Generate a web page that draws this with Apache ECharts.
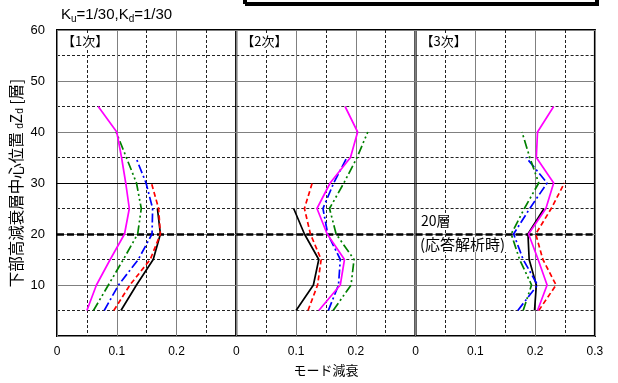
<!DOCTYPE html>
<html><head><meta charset="utf-8">
<script src="https://cdn.jsdelivr.net/npm/echarts@6/dist/echarts.min.js"></script>
<style>html,body{margin:0;padding:0;background:#fff}#c{width:618px;height:383px}</style>
</head><body><div id="c"></div>
<script>
var floors = [5,10,15,20,25,30,35,40,45];
var panelNames = ['【1次】','【2次】','【3次】'];
var xTicks = [0,0.1,0.2,0.3];
var yTicks = [10,20,30,40,50,60];
// series values per panel (x = mode damping at each floor)
var black1 = [0.107,0.133,0.161,0.173,0.168];
var red1 = [0.095,0.122,0.156,0.173,0.170,0.158];
var blue1 = [0.079,0.103,0.136,0.159,0.160,0.149,0.132];
var green1 = [0.061,0.086,0.111,0.135,0.141,0.133,0.116,0.099];
var magenta1 = [0.050,0.066,0.089,0.113,0.121,0.115,0.108,0.100,0.069];
var black2 = [0.100,0.129,0.138,0.114,0.096];
var red2 = [0.120,0.136,0.142,0.124,0.114,0.127];
var blue2 = [0.154,0.171,0.174,0.153,0.145,0.163,0.185];
var green2 = [0.162,0.192,0.197,0.167,0.156,0.180,0.202,0.220];
var magenta2 = [0.138,0.174,0.181,0.152,0.135,0.157,0.191,0.203,0.182];
var black3 = [0.199,0.202,0.190,0.188,0.215];
var red3 = [0.206,0.235,0.213,0.201,0.227,0.249];
var blue3 = [0.171,0.204,0.180,0.164,0.191,0.220,0.185];
var green3 = [0.180,0.194,0.174,0.160,0.182,0.206,0.191,0.178];
var magenta3 = [0.204,0.220,0.205,0.189,0.218,0.231,0.202,0.204,0.231];
var refFloor = 20;

var panels = [
  [black1, red1, blue1, green1, magenta1],
  [black2, red2, blue2, green2, magenta2],
  [black3, red3, blue3, green3, magenta3]
];
var styles = [
  {color:'#000000', type:'solid'},
  {color:'#FF0000', type:[5,3]},
  {color:'#0000FF', type:[9,3,2,3]},
  {color:'#008000', type:[9,3,2,3,2,3]},
  {color:'#FF00FF', type:'solid'}
];
var gridLeft = 57, gridW = 179.3, gridTop = 30, gridH = 306;
var FONT = '"Liberation Sans", Arial, "Noto Sans CJK JP", sans-serif';
var JFONT = '"Noto Sans CJK JP", sans-serif';

var grids = [], xAxes = [], yAxes = [], series = [], titles = [];
for (var p = 0; p < 3; p++) {
  grids.push({left: gridLeft + p*gridW, top: gridTop, width: gridW, height: gridH,
    show: true, borderColor: '#000', borderWidth: 2, backgroundColor: '#fff', containLabel: false});
  xAxes.push({type:'value', gridIndex:p, min:0, max:0.3, interval:0.1,
    axisLine:{show:false}, axisTick:{show:false},
    axisLabel:{show:true, showMaxLabel: p===2, margin:10, fontSize:12, color:'#000', fontFamily:FONT,
      formatter:function(v){return (Math.round(v*10)/10).toString();}},
    splitLine:{show:true, lineStyle:{color:'#808080', width:1}},
    minorTick:{show:false, splitNumber:2},
    minorSplitLine:{show:true, lineStyle:{color:'#222', width:1, type:[3,2]}},
    name: p===1 ? 'モード減衰' : '', nameLocation:'middle', nameGap:28,
    nameTextStyle:{fontSize:13, color:'#000', fontFamily:JFONT}
  });
  yAxes.push({type:'value', gridIndex:p, min:0, max:60, interval:10,
    axisLine:{show:false}, axisTick:{show:false},
    axisLabel:{show: p===0, showMinLabel:false, margin:12, fontSize:13, color:'#000', fontFamily:FONT, verticalAlign:'middle'},
    splitLine:{show:true, lineStyle:{color:'#808080', width:1}},
    minorTick:{show:false, splitNumber:2},
    minorSplitLine:{show:true, lineStyle:{color:'#222', width:1, type:[3,2]}},
    name: p===0 ? '{a|下部高減衰層中心位置 }{s|d}{a|Z}{s|d}{a| [層]}' : '',
    nameLocation:'middle', nameRotate:90, nameGap:32,
    nameTextStyle:{rich:{a:{fontSize:15.5, fontFamily:JFONT, color:'#000'}, s:{fontSize:10, fontFamily:FONT, color:'#000', padding:[7,0,0,0]}}}
  });
  for (var s = 0; s < 5; s++) {
    var vals = panels[p][s];
    var data = [];
    for (var i = 0; i < vals.length; i++) data.push([vals[i], floors[i]]);
    var ser = {type:'line', xAxisIndex:p, yAxisIndex:p, data:data, showSymbol:false, symbol:'none',
      silent:true, animation:false, z:5,
      lineStyle:{color:styles[s].color, type:styles[s].type, width:1.7}};
    if (s === 0) {
      ser.markLine = {silent:true, symbol:'none', animation:false, label:{show:false},
        data:[
          {yAxis:30, lineStyle:{color:'#000', width:1, type:'solid'}},
          {yAxis:refFloor, lineStyle:{color:'#000', width:2.5, type:[7,3]}}
        ]};
    }
    series.push(ser);
  }
  titles.push({text: panelNames[p], left: gridLeft + p*gridW + 4, top: gridTop + 4,
    backgroundColor:'#fff', padding:[1,1,1,1],
    textStyle:{fontSize:13, fontWeight:'normal', color:'#000', fontFamily:JFONT}});
}
titles.push({text:'{a|K}{s|u}{a|=1/30,K}{s|d}{a|=1/30}', left:61, top:6, padding:0,
  textStyle:{fontWeight:'normal', rich:{a:{fontSize:15, fontWeight:'normal', fontFamily:FONT, color:'#000'}, s:{fontSize:10, fontWeight:'normal', fontFamily:FONT, color:'#000', padding:[8,0,0,0]}}}});

var chart = echarts.init(document.getElementById('c'), null, {renderer:'canvas'});
chart.setOption({
  animation:false,
  backgroundColor:'#fff',
  title: titles,
  grid: grids, xAxis: xAxes, yAxis: yAxes, series: series,
  graphic: [
    {type:'rect', left:243, top:-18, z:10, shape:{width:352, height:20},
      style:{fill:'#fff', stroke:'#000', lineWidth:2, shadowColor:'#000', shadowOffsetX:2, shadowOffsetY:2, shadowBlur:0}},
    {type:'text', left:420, top:214, z:20, style:{text:'20層', fontSize:14, fontFamily:JFONT, fill:'#000', backgroundColor:'#fff', padding:[0,1]}},
    {type:'text', left:419, top:237, z:20, style:{text:'(応答解析時)', fontSize:15, fontFamily:JFONT, fill:'#000', backgroundColor:'#fff', padding:[0,1]}}
  ]
});
</script></body></html>
